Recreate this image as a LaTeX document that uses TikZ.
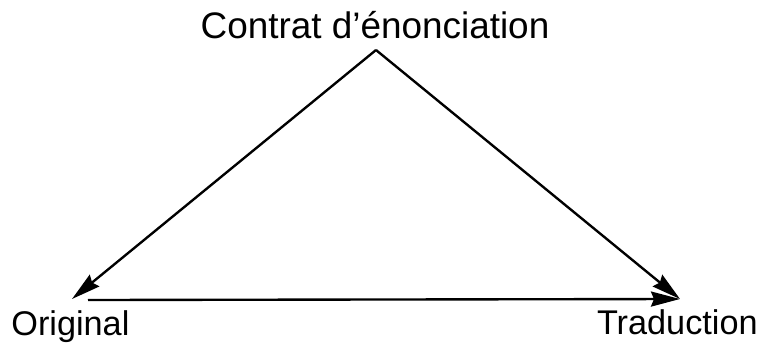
\documentclass[tikz,border=0pt]{standalone}
\usepackage{fontspec}
\setsansfont{Liberation Sans}
\usetikzlibrary{arrows.meta, positioning}

\begin{document}
\begin{tikzpicture}[
  font=\sffamily,
  lbl/.style={font=\sffamily\fontsize{19.5}{22}\selectfont, inner sep=0pt, anchor=base},
  fleche/.style={draw=black, line width=1.35pt,
    -{Stealth[length=0.58cm, width=0.3cm, inset=0.06cm]}}
]
\useasboundingbox (0,0) rectangle (15.26,-6.86);

\node[lbl, font=\sffamily\fontsize{21}{24}\selectfont] (contrat) at (7.50, -0.76) {Contrat d'énonciation};
\node[lbl, anchor=base west] (original) at (0.22, -6.70) {Original};
\node[lbl, anchor=base east] (traduction) at (15.16, -6.68) {Traduction};

\coordinate (sommet) at (7.52, -1.00);
\coordinate (pointeO) at (1.44, -5.98);
\coordinate (departO) at (1.76, -6.00);
\coordinate (pointeT) at (13.60, -5.98);

\draw[fleche] (sommet) -- (pointeO);
\draw[fleche] (sommet) -- (pointeT);
\draw[fleche] (departO) -- (pointeT);
\end{tikzpicture}
\end{document}
